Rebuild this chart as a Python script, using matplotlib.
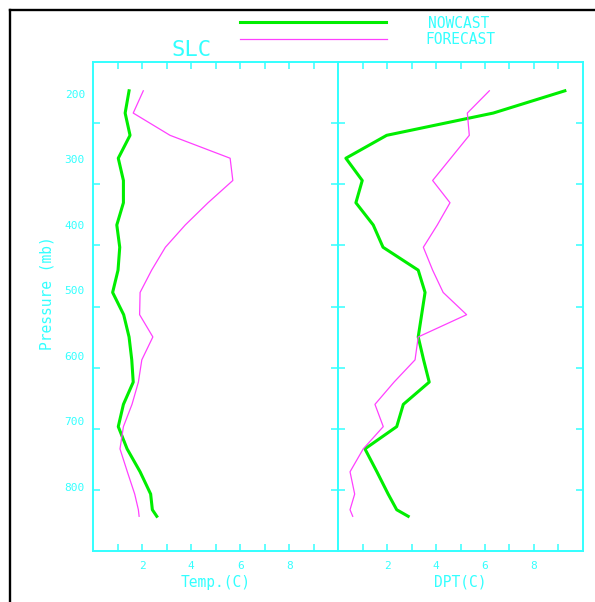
import matplotlib
matplotlib.use("Agg")
import matplotlib.pyplot as plt
import matplotlib.transforms as mtransforms
from matplotlib.lines import Line2D

# pressure levels (mb), top to bottom
levels = [200, 234, 268, 303, 337, 371, 405, 439, 474, 508, 542,
          576, 611, 645, 679, 713, 747, 782, 816, 840, 850]

# temperature (C)
temp_now = [1.47, 1.31, 1.51, 1.03, 1.24, 1.24, 0.97, 1.09, 1.02, 0.80, 1.25,
            1.47, 1.58, 1.64, 1.24, 1.03, 1.39, 1.92, 2.35, 2.42, 2.60]
temp_fcst = [2.05, 1.64, 3.14, 5.59, 5.70, 4.69, 3.76, 2.95, 2.39, 1.92, 1.90,
             2.44, 1.99, 1.85, 1.59, 1.24, 1.10, 1.40, 1.70, 1.85, 1.88]

# dew point (C)
dpt_now = [9.27, 6.34, 1.98, 0.31, 0.98, 0.72, 1.43, 1.83, 3.27, 3.55, 3.41,
           3.27, 3.49, 3.72, 2.66, 2.39, 1.09, 1.58, 2.04, 2.39, 2.86]
dpt_fcst = [6.18, 5.28, 5.36, 4.60, 3.86, 4.57, 4.05, 3.48, 3.86, 4.29, 5.25,
            3.27, 3.14, 2.28, 1.50, 1.84, 1.02, 0.48, 0.67, 0.48, 0.59]

p_labels = [200, 300, 400, 500, 600, 700, 800]
x_ticks = [1, 2, 3, 4, 5, 6, 7, 8, 9]
x_ticklabels = ["", "2", "", "4", "", "6", "", "8", ""]

CYAN = "#33ffff"
GREEN = "#00ee00"
MAGENTA = "#ff40ff"
FONT = "DejaVu Sans Mono"

W, H = 595, 602
fig = plt.figure(figsize=(W / 100, H / 100), dpi=100)

def fx(px):
    return px / W

def fy(py):
    return 1 - py / H

ylim = (903, 156)
ax_l = fig.add_axes([fx(93), fy(551), fx(338.3) - fx(93), fy(62) - fy(551)])
ax_r = fig.add_axes([fx(338.3), fy(551), fx(582.7) - fx(338.3), fy(62) - fy(551)])

# y ticks sit at eighths of the axis, independent of the labels
y_ticks = [ylim[0] + k * (ylim[1] - ylim[0]) / 8 for k in range(1, 8)]

panels = [(ax_l, temp_now, temp_fcst, "Temp.(C)"),
          (ax_r, dpt_now, dpt_fcst, "DPT(C)")]
for ax, now, fcst, xlabel in panels:
    ax.plot(now, levels, color=GREEN, lw=2.2, solid_joinstyle="round")
    ax.plot(fcst, levels, color=MAGENTA, lw=0.9)
    ax.set_xlim(0, 10)
    ax.set_ylim(*ylim)
    ax.set_xticks(x_ticks)
    ax.set_xticklabels(x_ticklabels, fontfamily=FONT, fontsize=8, color=CYAN)
    ax.set_yticks(y_ticks)
    ax.set_yticklabels([])
    ax.tick_params(axis="both", direction="in", length=5, width=1.1,
                   color=CYAN, top=True, right=True, pad=7)
    for s in ax.spines.values():
        s.set_color(CYAN)
        s.set_linewidth(1.4)
    ax.text(0.5, -0.0634, xlabel, transform=ax.transAxes, ha="center",
            va="center", fontfamily=FONT, fontsize=10.5, color=CYAN)

# pressure labels, drawn a few pixels low like the original
trans = mtransforms.blended_transform_factory(ax_l.transAxes, ax_l.transData)
trans = mtransforms.offset_copy(trans, fig=fig, y=-4, units="dots")
for p in p_labels:
    ax_l.text(-0.033, p, str(p), transform=trans, ha="right", va="center",
              fontfamily=FONT, fontsize=8, color=CYAN)

fig.text(fx(47), fy(293), "Pressure (mb)", rotation=90, ha="center",
         va="center", fontfamily=FONT, fontsize=10.5, color=CYAN)
fig.text(fx(191.5), fy(50), "SLC", ha="center", va="center",
         fontfamily=FONT, fontsize=16, color=CYAN)

# legend
fig.add_artist(Line2D([fx(240), fx(386)], [fy(22), fy(22)], color=GREEN, lw=2.2))
fig.add_artist(Line2D([fx(240), fx(387)], [fy(39), fy(39)], color=MAGENTA, lw=0.9))
fig.text(fx(459), fy(23), "NOWCAST", ha="center", va="center",
         fontfamily=FONT, fontsize=10.5, color=CYAN)
fig.text(fx(460.5), fy(39), "FORECAST", ha="center", va="center",
         fontfamily=FONT, fontsize=10.5, color=CYAN)

# black frame on top and left
fig.add_artist(Line2D([fx(10), 1], [fy(10), fy(10)], color="black", lw=1.7))
fig.add_artist(Line2D([fx(10), fx(10)], [0, fy(10)], color="black", lw=1.7))

fig.savefig("out.png", dpi=100, facecolor="white")
